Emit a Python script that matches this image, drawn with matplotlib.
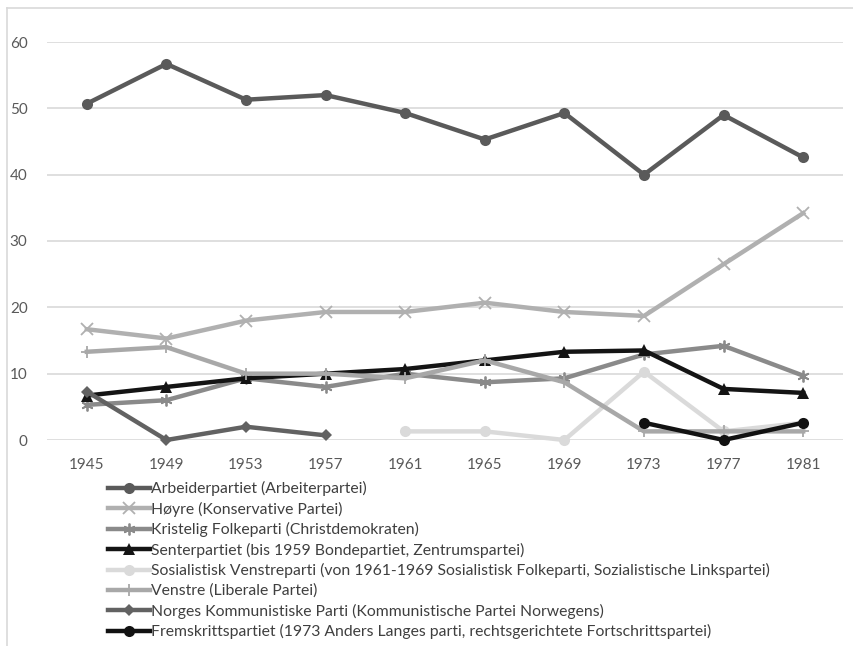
import numpy as np
import matplotlib.pyplot as plt
from matplotlib.lines import Line2D

plt.rcParams['font.family'] = ['Lato', 'DejaVu Sans']

# Stortingswahlen, Sitzanteil in %
years = ['1945', '1949', '1953', '1957', '1961', '1965', '1969', '1973', '1977', '1981']

arbeiderpartiet = [50.7, 56.7, 51.3, 52.0, 49.3, 45.3, 49.3, 40.0, 49.0, 42.6]
hoyre = [16.7, 15.3, 18.0, 19.3, 19.3, 20.7, 19.3, 18.7, 26.5, 34.2]
krf = [5.3, 6.0, 9.3, 8.0, 10.0, 8.7, 9.3, 12.9, 14.2, 9.7]
senterpartiet = [6.7, 8.0, 9.3, 10.0, 10.7, 12.0, 13.3, 13.5, 7.7, 7.1]
sv = [np.nan, np.nan, np.nan, np.nan, 1.3, 1.3, 0.0, 10.3, 1.3, 2.6]
venstre = [13.3, 14.0, 10.0, 10.0, 9.3, 12.0, 8.7, 1.3, 1.3, 1.3]
nkp = [7.3, 0.0, 2.0, 0.7, np.nan, np.nan, np.nan, np.nan, np.nan, np.nan]
frp = [np.nan, np.nan, np.nan, np.nan, np.nan, np.nan, np.nan, 2.6, 0.0, 2.6]

labels = [
    'Arbeiderpartiet (Arbeiterpartei)',
    'Høyre (Konservative Partei)',
    'Kristelig Folkeparti (Christdemokraten)',
    'Senterpartiet (bis 1959 Bondepartiet, Zentrumspartei)',
    'Sosialistisk Venstreparti (von 1961-1969 Sosialistisk Folkeparti, Sozialistische Linkspartei)',
    'Venstre (Liberale Partei)',
    'Norges Kommunistiske Parti (Kommunistische Partei Norwegens)',
    'Fremskrittspartiet (1973 Anders Langes parti, rechtsgerichtete Fortschrittspartei)',
]

fig = plt.figure(figsize=(8.54, 6.46), dpi=100)
W, H = 854, 646
ax = fig.add_axes([47 / W, 1 - 440 / H, (843 - 47) / W, (440 - 42) / H])

x = np.arange(len(years))

styles = [
    (arbeiderpartiet, '#5a5a5a', 'o', 8, 0),
    (hoyre, '#b0b0b0', 'x', 8, 1.3),
    (krf, '#8a8a8a', (6, 2, 0), 8.5, 1.3),
    (senterpartiet, '#141414', '^', 8, 0),
    (sv, '#dadada', 'o', 8, 0),
    (venstre, '#a8a8a8', '+', 8.5, 1.3),
    (nkp, '#626262', 'D', 6.5, 0),
    (frp, '#121212', 'o', 8, 0),
]

for (vals, col, mk, ms, mew), lab in zip(styles, labels):
    ax.plot(x, vals, color=col, lw=3.2, marker=mk, ms=ms, mew=mew,
            mec=col, mfc=col, label=lab, clip_on=False, zorder=3)

ax.set_xlim(-0.5, len(years) - 0.5)
ax.set_ylim(0, 60)
ax.set_yticks(np.arange(0, 61, 10))
ax.set_xticks(x)
ax.set_xticklabels(years)
ax.grid(axis='y', color='#d9d9d9', lw=1.2)
ax.set_axisbelow(True)
for s in ax.spines.values():
    s.set_visible(False)
ax.tick_params(length=0, labelsize=11, labelcolor='#595959')
ax.tick_params(axis='y', pad=14)
ax.tick_params(axis='x', pad=13)

leg = fig.legend(loc='upper left', bbox_to_anchor=(108 / W, 1 - 481 / H),
                 frameon=False, fontsize=11.3, handlelength=2.7, handletextpad=0.05,
                 labelspacing=0.35, borderaxespad=0, borderpad=0)
for t in leg.get_texts():
    t.set_color('#3f3f3f')

# frame
fig.add_artist(Line2D([7.5 / W, 7.5 / W], [0, 1 - 8 / H], color='#d9d9d9', lw=1.2))
fig.add_artist(Line2D([7.5 / W, 1], [1 - 8 / H, 1 - 8 / H], color='#d9d9d9', lw=1.2))

fig.savefig('out.png', dpi=100)
